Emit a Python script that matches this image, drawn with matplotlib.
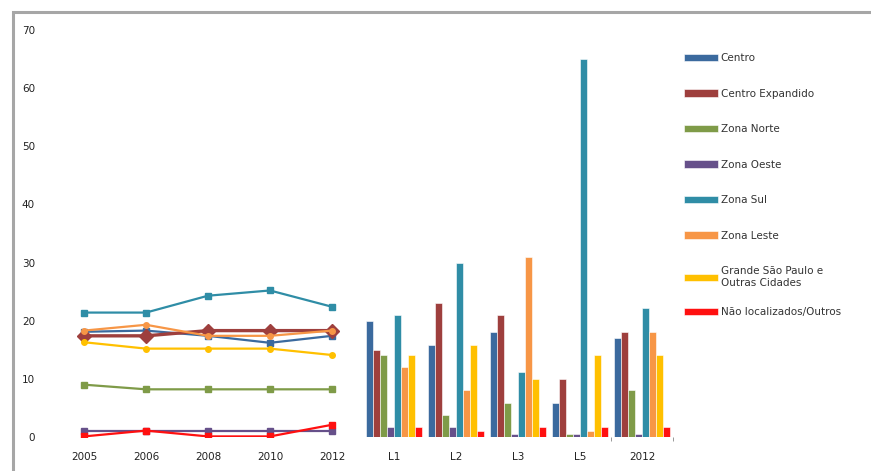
import numpy as np
import matplotlib
matplotlib.use("Agg")
import matplotlib.pyplot as plt
from matplotlib.patches import Rectangle

# categories on the shared x axis
years = ["2005", "2006", "2008", "2010", "2012"]
groups = ["L1", "L2", "L3", "L5", "2012"]

series = ["Centro", "Centro Expandido", "Zona Norte", "Zona Oeste", "Zona Sul",
          "Zona Leste", "Grande São Paulo e\nOutras Cidades", "Não localizados/Outros"]
colors = ["#3B6A9E", "#9E3F3D", "#7F9B48", "#66508A", "#2F8DA6",
          "#F79646", "#FFC000", "#FF1010"]

# line part (by year)
centro_y = [18.1, 18.3, 17.4, 16.2, 17.4]
expandido_y = [17.4, 17.4, 18.3, 18.3, 18.3]
norte_y = [9.0, 8.2, 8.2, 8.2, 8.2]
oeste_y = [1.1, 1.1, 1.1, 1.1, 1.1]
sul_y = [21.4, 21.4, 24.3, 25.2, 22.4]
leste_y = [18.3, 19.3, 17.4, 17.4, 18.3]
grande_y = [16.3, 15.2, 15.2, 15.2, 14.1]
outros_y = [0.1, 1.1, 0.1, 0.1, 2.1]

# bar part (by group)
centro_b = [20.0, 15.9, 18.0, 5.9, 17.0]
expandido_b = [14.9, 23.1, 21.0, 10.0, 18.0]
norte_b = [14.1, 3.8, 5.9, 0.6, 8.0]
oeste_b = [1.8, 1.8, 0.6, 0.6, 0.6]
sul_b = [21.0, 30.0, 11.1, 65.0, 22.2]
leste_b = [12.1, 8.0, 31.0, 1.1, 18.0]
grande_b = [14.1, 15.9, 10.0, 14.1, 14.1]
outros_b = [1.8, 1.1, 1.8, 1.8, 1.8]

lines = [centro_y, expandido_y, norte_y, oeste_y, sul_y, leste_y, grande_y, outros_y]
bars = [centro_b, expandido_b, norte_b, oeste_b, sul_b, leste_b, grande_b, outros_b]
markers = ["s", "D", "s", "s", "s", "o", "o", "s"]

fig = plt.figure(figsize=(8.71, 4.71), dpi=100)
fig.patches.append(Rectangle((13 / 871, -0.1), 1.2, (471 - 12) / 471 + 0.1,
                             transform=fig.transFigure, fill=False,
                             edgecolor="#A6A6A6", linewidth=2.2))
ax = fig.add_axes([53 / 871, 34 / 471, 620 / 871, 407 / 471])

xl = np.arange(len(years))
for i in range(len(series)):
    ms = 7 if markers[i] == "D" else 4
    lw = 2.4 if markers[i] == "D" else 1.6
    ax.plot(xl, lines[i], color=colors[i], lw=lw, marker=markers[i], ms=ms, zorder=3)

xb = np.arange(len(groups)) + len(years)
w = 0.111
handles = []
for i in range(len(series)):
    h = ax.bar(xb + (i - 3.5) * w, bars[i], width=w, color=colors[i],
               edgecolor="white", linewidth=0.4, label=series[i])
    handles.append(h)

ax.set_xlim(-0.5, 9.5)
ax.set_ylim(0, 70)
ax.set_yticks(range(0, 71, 10))
ax.set_xticks(np.arange(10))
ax.set_xticklabels(years + groups, fontsize=7.5, color="#222222")
ax.set_xticks([8.5, 9.5], minor=True)
ax.tick_params(axis="x", which="major", length=0, pad=11)
ax.tick_params(axis="x", which="minor", length=3, color="#888888")
ax.tick_params(axis="y", length=0, pad=13, labelsize=7.5, labelcolor="#222222")
for s in ax.spines.values():
    s.set_visible(False)

leg_kw = dict(loc="upper left", frameon=False, fontsize=7.5, handlelength=3.2,
              handleheight=0.7, labelspacing=2.45, handletextpad=0.3, borderaxespad=0)
leg1 = fig.legend(handles[:7], series[:7], bbox_to_anchor=(680 / 871, 1 - 49 / 471), **leg_kw)
leg2 = fig.legend(handles[7:], series[7:], bbox_to_anchor=(680 / 871, 1 - 303 / 471), **leg_kw)
for leg in (leg1, leg2):
    for t in leg.get_texts():
        t.set_color("#333333")

fig.savefig("out.png", dpi=100)
